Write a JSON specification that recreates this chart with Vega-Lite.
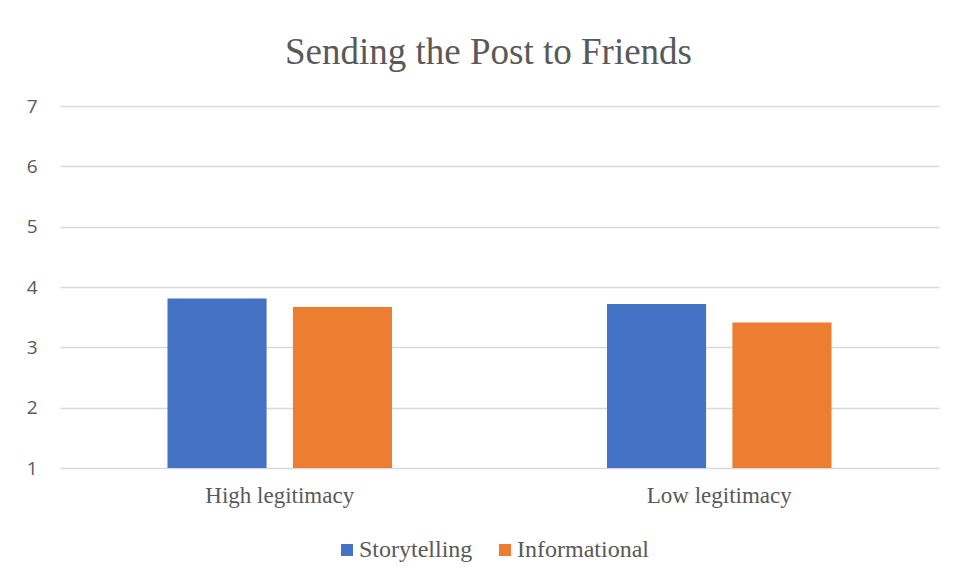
{
  "$schema": "https://vega.github.io/schema/vega-lite/v6.json",
  "autosize": "none",
  "width": 879,
  "height": 362,
  "padding": {"left": 60, "top": 106, "right": 16, "bottom": 111},
  "background": "white",
  "title": {
    "text": "Sending the Post to Friends",
    "font": "Liberation Serif",
    "fontSize": 37,
    "fontWeight": "normal",
    "color": "#595959",
    "anchor": "middle",
    "offset": 25,
    "dx": -11
  },
  "data": {
    "values": [
      {"group": "High legitimacy", "type": "Storytelling", "value": 3.81},
      {"group": "High legitimacy", "type": "Informational", "value": 3.67},
      {"group": "Low legitimacy", "type": "Storytelling", "value": 3.72},
      {"group": "Low legitimacy", "type": "Informational", "value": 3.41}
    ]
  },
  "mark": {"type": "bar"},
  "encoding": {
    "x": {
      "field": "group",
      "type": "nominal",
      "sort": ["High legitimacy", "Low legitimacy"],
      "scale": {"paddingInner": 0, "paddingOuter": 0},
      "axis": {
        "title": null,
        "labelAngle": 0,
        "labelFont": "Liberation Serif",
        "labelFontSize": 23,
        "labelColor": "#595959",
        "labelPadding": 16,
        "ticks": false,
        "domain": false,
        "grid": false
      }
    },
    "xOffset": {
      "field": "type",
      "type": "nominal",
      "sort": ["Storytelling", "Informational"],
      "scale": {"paddingInner": 0.21, "paddingOuter": 0.857}
    },
    "y": {
      "field": "value",
      "type": "quantitative",
      "scale": {"domain": [1, 7], "nice": false, "zero": false},
      "axis": {
        "title": null,
        "values": [1, 2, 3, 4, 5, 6, 7],
        "labelFont": "Open Sans",
        "labelFontSize": 19,
        "labelColor": "#595959",
        "labelPadding": 23,
        "ticks": false,
        "domain": false,
        "grid": true,
        "gridColor": "#d9d9d9",
        "gridWidth": 1.5
      }
    },
    "y2": {"datum": 1},
    "color": {
      "field": "type",
      "type": "nominal",
      "sort": ["Storytelling", "Informational"],
      "scale": {"domain": ["Storytelling", "Informational"], "range": ["#4472C4", "#ED7D31"]},
      "legend": {
        "title": null,
        "orient": "none",
        "direction": "horizontal",
        "legendX": 275,
        "legendY": 432,
        "symbolType": "square",
        "symbolSize": 144,
        "symbolStrokeWidth": 0,
        "labelFont": "Liberation Serif",
        "labelFontSize": 24,
        "labelColor": "#595959",
        "labelOffset": 0,
        "columnPadding": 20
      }
    }
  },
  "config": {
    "view": {"stroke": null}
  }
}
